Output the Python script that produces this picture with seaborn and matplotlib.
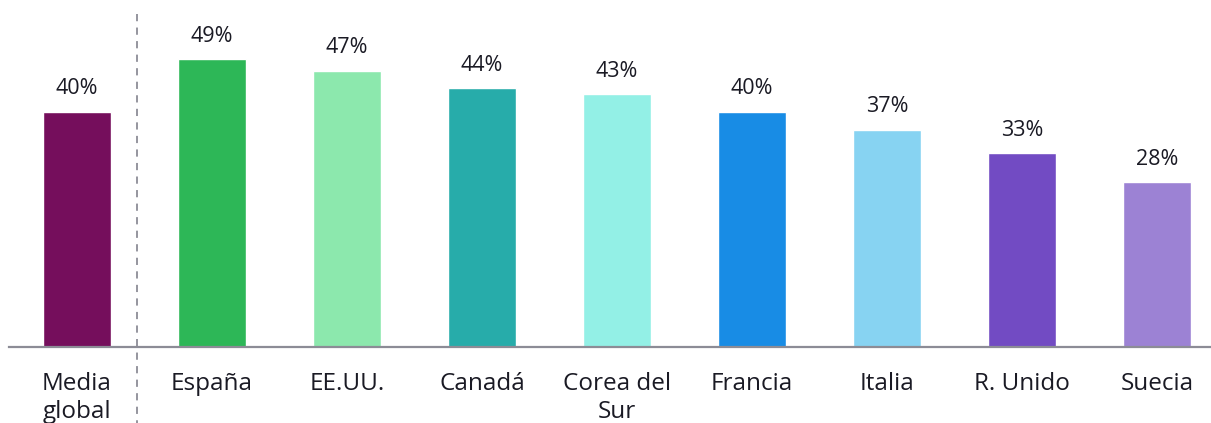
import matplotlib
matplotlib.use("Agg")
import matplotlib.pyplot as plt
import matplotlib.transforms as mtransforms
import seaborn as sns
import pandas as pd

categories = ["Media\nglobal", "España", "EE.UU.", "Canadá", "Corea del\nSur",
              "Francia", "Italia", "R. Unido", "Suecia"]
values = [40, 49, 47, 44, 43, 40, 37, 33, 28]
colors = ["#750E5C", "#2DB757", "#8CE8AD", "#27ACAA", "#93F0E6",
          "#188CE5", "#87D3F2", "#724BC3", "#9C82D4"]

df = pd.DataFrame({"pais": categories, "valor": values})

sns.set_theme(style="white")
plt.rcParams["font.family"] = ["Open Sans", "DejaVu Sans"]

fig = plt.figure(figsize=(12.11, 4.23), dpi=100)
ax = fig.add_axes([9 / 1211, 76 / 423, 1202 / 1211, 339 / 423])

sns.barplot(data=df, x="pais", y="valor", hue="pais", palette=colors,
            legend=False, width=0.5, saturation=1, ax=ax)

ax.set_xlim(-0.504, 8.4)
ax.set_ylim(0, 57.7)

for i, v in enumerate(values):
    ax.annotate(f"{v}%", (i, v), xytext=(0, 9), textcoords="offset points",
                ha="center", va="bottom", fontsize=15.5, color="#1A1A24")

for side in ["top", "right", "left"]:
    ax.spines[side].set_visible(False)
ax.spines["bottom"].set_color("#8C8C96")
ax.spines["bottom"].set_linewidth(1.6)

ax.set_yticks([])
ax.set_xlabel("")
ax.set_ylabel("")
ax.tick_params(axis="x", length=0, pad=18, labelsize=17.5, labelcolor="#1A1A24")
for lbl in ax.get_xticklabels():
    lbl.set_linespacing(1.2)

# separator between the global average and the countries
trans = mtransforms.blended_transform_factory(ax.transData, fig.transFigure)
ax.plot([0.444, 0.444], [1 - 14 / 423, 0], transform=trans, color="#8C8C96",
        linestyle=(0, (4, 3.5)), linewidth=1.3, clip_on=False)

fig.savefig("out.png", dpi=100)
